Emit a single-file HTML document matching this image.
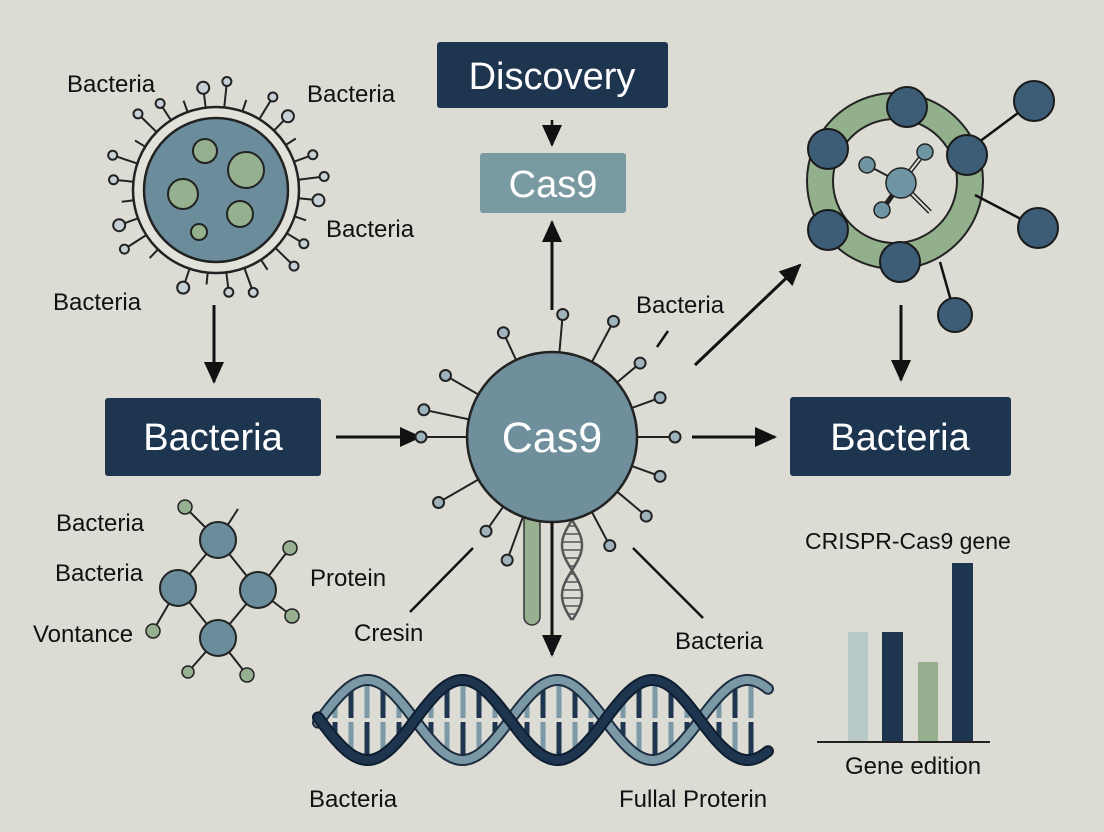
<!DOCTYPE html>
<html><head><meta charset="utf-8"><style>
html,body{margin:0;padding:0;background:#dcdcd5;}
svg{display:block}
text{font-family:"Liberation Sans",sans-serif;}
</style></head><body>
<svg id="s" width="1104" height="832" viewBox="0 0 1104 832" xmlns="http://www.w3.org/2000/svg">
<defs>
<marker id="ahb" markerWidth="24" markerHeight="24" refX="20" refY="12" orient="auto" markerUnits="userSpaceOnUse"><path d="M0,2 L22,12 L0,22 z" fill="#111"/></marker>
</defs>
<rect width="1104" height="832" fill="#dcdcd5"/>
<g id="spk1" stroke="#222" stroke-width="2" fill="#c6d0d6"></g>
<circle cx="216" cy="190" r="83" fill="#e3e2da" stroke="#222" stroke-width="2.5"/>
<circle cx="216" cy="190" r="72" fill="#6a8c9b" stroke="#222" stroke-width="2.5"/>
<g fill="#95b08e" stroke="#222" stroke-width="2">
<circle cx="205" cy="151" r="12"/><circle cx="246" cy="170" r="18"/><circle cx="183" cy="194" r="15"/><circle cx="240" cy="214" r="13"/><circle cx="199" cy="232" r="8"/>
</g>
<g font-size="24" fill="#111">
<text x="67" y="92">Bacteria</text><text x="307" y="102">Bacteria</text><text x="326" y="237">Bacteria</text><text x="53" y="310">Bacteria</text>
</g>
<line x1="214" y1="305" x2="214" y2="382" stroke="#111" stroke-width="3" marker-end="url(#ahb)"/>
<rect x="105" y="398" width="216" height="78" rx="3" fill="#1e3550"/>
<text x="213" y="450" font-size="38" fill="#fff" text-anchor="middle">Bacteria</text>
<line x1="336" y1="437" x2="420" y2="437" stroke="#111" stroke-width="3" marker-end="url(#ahb)"/>

<rect x="437" y="42" width="231" height="66" rx="3" fill="#1e3550"/>
<text x="552" y="89" font-size="38" fill="#fff" text-anchor="middle">Discovery</text>
<line x1="552" y1="120" x2="552" y2="145" stroke="#111" stroke-width="2.5" marker-end="url(#ahb)"/>
<rect x="480" y="153" width="146" height="60" rx="3" fill="#7a9aa2"/>
<text x="553" y="197" font-size="38" fill="#fff" text-anchor="middle">Cas9</text>
<line x1="552" y1="310" x2="552" y2="222" stroke="#111" stroke-width="3" marker-end="url(#ahb)"/>

<g id="spk2" stroke="#222" stroke-width="2" fill="#9fb3bd"></g>
<rect x="524" y="505" width="16" height="120" rx="8" fill="#97b090" stroke="#333" stroke-width="1.5"/>
<g id="mini" stroke="#555" stroke-width="2.5" fill="none"></g>
<circle cx="552" cy="437" r="85" fill="#6f8f9c" stroke="#222" stroke-width="2.5"/>
<text x="552" y="452" font-size="43" fill="#fff" text-anchor="middle">Cas9</text>
<line x1="552" y1="522" x2="552" y2="655" stroke="#111" stroke-width="3" marker-end="url(#ahb)"/>
<line x1="473" y1="548" x2="410" y2="612" stroke="#111" stroke-width="2.5"/>
<line x1="633" y1="548" x2="703" y2="618" stroke="#111" stroke-width="2.5"/>
<text x="354" y="641" font-size="24" fill="#111">Cresin</text>
<text x="675" y="649" font-size="24" fill="#111">Bacteria</text>
<text x="636" y="313" font-size="24" fill="#111">Bacteria</text>
<line x1="657" y1="347" x2="668" y2="331" stroke="#111" stroke-width="2.5"/>
<line x1="695" y1="365" x2="800" y2="265" stroke="#111" stroke-width="3" marker-end="url(#ahb)"/>
<line x1="692" y1="437" x2="775" y2="437" stroke="#111" stroke-width="3" marker-end="url(#ahb)"/>

<circle cx="895" cy="181" r="75" fill="none" stroke="#222" stroke-width="28"/>
<circle cx="895" cy="181" r="75" fill="none" stroke="#93b08c" stroke-width="24"/>
<g stroke="#111" stroke-width="2.5"><line x1="975" y1="145" x2="1034" y2="101"/><line x1="975" y1="195" x2="1038" y2="228"/><line x1="940" y1="262" x2="955" y2="315"/></g>
<g stroke="#222" stroke-width="2">
<line x1="901" y1="183" x2="867" y2="165"/><line x1="901" y1="183" x2="925" y2="152" stroke-width="5"/><line x1="901" y1="183" x2="882" y2="210" stroke-width="5"/><line x1="901" y1="183" x2="930" y2="212" stroke-width="5"/>
<line x1="901" y1="183" x2="925" y2="152" stroke="#dcdcd5" stroke-width="2"/><line x1="901" y1="183" x2="930" y2="212" stroke="#dcdcd5" stroke-width="2"/>
</g>
<g fill="#6f95a4" stroke="#222" stroke-width="1.5"><circle cx="901" cy="183" r="15"/><circle cx="867" cy="165" r="8"/><circle cx="925" cy="152" r="8"/><circle cx="882" cy="210" r="8"/></g>
<g fill="#3d5d77" stroke="#1a1a1a" stroke-width="2">
<circle cx="907" cy="107" r="20"/><circle cx="828" cy="149" r="20"/><circle cx="967" cy="155" r="20"/><circle cx="828" cy="230" r="20"/><circle cx="900" cy="262" r="20"/>
<circle cx="1034" cy="101" r="20"/><circle cx="1038" cy="228" r="20"/><circle cx="955" cy="315" r="17"/>
</g>
<line x1="901" y1="305" x2="901" y2="380" stroke="#111" stroke-width="3" marker-end="url(#ahb)"/>
<rect x="790" y="397" width="221" height="79" rx="3" fill="#1e3550"/>
<text x="900" y="450" font-size="38" fill="#fff" text-anchor="middle">Bacteria</text>

<text x="805" y="549" font-size="23" fill="#111">CRISPR-Cas9 gene</text>
<rect x="848" y="632" width="20" height="110" fill="#b9c9c8"/>
<rect x="882" y="632" width="21" height="110" fill="#1e3550"/>
<rect x="918" y="662" width="20" height="80" fill="#97b090"/>
<rect x="952" y="563" width="21" height="179" fill="#1e3550"/>
<line x1="817" y1="742" x2="990" y2="742" stroke="#222" stroke-width="2"/>
<text x="845" y="774" font-size="24" fill="#111">Gene edition</text>

<g stroke="#222" stroke-width="2">
<line x1="218" y1="540" x2="178" y2="588"/><line x1="218" y1="540" x2="258" y2="590"/><line x1="178" y1="588" x2="218" y2="638"/><line x1="258" y1="590" x2="218" y2="638"/>
<line x1="218" y1="540" x2="185" y2="507"/><line x1="218" y1="540" x2="238" y2="509"/><line x1="258" y1="590" x2="290" y2="548"/><line x1="178" y1="588" x2="153" y2="631"/><line x1="258" y1="590" x2="292" y2="616"/><line x1="218" y1="638" x2="247" y2="675"/><line x1="218" y1="638" x2="188" y2="672"/>
</g>
<g fill="#6a8c9b" stroke="#222" stroke-width="2"><circle cx="218" cy="540" r="18"/><circle cx="178" cy="588" r="18"/><circle cx="258" cy="590" r="18"/><circle cx="218" cy="638" r="18"/></g>
<g fill="#97b090" stroke="#222" stroke-width="1.5"><circle cx="185" cy="507" r="7"/><circle cx="290" cy="548" r="7"/><circle cx="153" cy="631" r="7"/><circle cx="292" cy="616" r="7"/><circle cx="247" cy="675" r="7"/><circle cx="188" cy="672" r="6"/></g>
<g font-size="24" fill="#111"><text x="56" y="531">Bacteria</text><text x="55" y="581">Bacteria</text><text x="310" y="586">Protein</text><text x="33" y="642">Vontance</text></g>

<g id="dna"></g>
<g font-size="24" fill="#111"><text x="309" y="807">Bacteria</text><text x="619" y="807">Fullal Proterin</text></g>
</svg>
<script>
var NS="http://www.w3.org/2000/svg";
function el(p,t,a){var e=document.createElementNS(NS,t);for(var k in a)e.setAttribute(k,a[k]);p.appendChild(e);return e;}
var g1=document.getElementById('spk1');
for(var i=0;i<28;i++){var a=i/28*2*Math.PI+0.1;var knob=i%3!=1;var L=knob?(98+(i%2)*6):95;
var x1=216+83*Math.cos(a),y1=190+83*Math.sin(a),x2=216+L*Math.cos(a),y2=190+L*Math.sin(a);
if(a>1.9&&a<2.3)continue;
el(g1,'line',{x1:x1,y1:y1,x2:x2,y2:y2});if(knob)el(g1,'circle',{cx:216+(L+5)*Math.cos(a),cy:190+(L+5)*Math.sin(a),r:(i%4==0?6:4.5)});}
var g2=document.getElementById('spk2');
var angs=[-115,-85,-62,-40,-150,-168,-20,0,180,20,40,150,125,62,110];
angs.forEach(function(d,i){var a=d*Math.PI/180;var L=110+(i%3)*8;
el(g2,'line',{x1:552+80*Math.cos(a),y1:437+80*Math.sin(a),x2:552+L*Math.cos(a),y2:437+L*Math.sin(a)});
el(g2,'circle',{cx:552+(L+5)*Math.cos(a),cy:437+(L+5)*Math.sin(a),r:5.5});});
var m=document.getElementById('mini');var p1="",p2="";
for(var y=520;y<=620;y+=2){var dx=10*Math.sin((y-520)/16);p1+=(y==520?"M":"L")+(572+dx)+","+y;p2+=(y==520?"M":"L")+(572-dx)+","+y;}
el(m,'path',{d:p1});el(m,'path',{d:p2});
for(var y=526;y<620;y+=8){var dx=10*Math.sin((y-520)/16);el(m,'line',{x1:572-dx,y1:y,x2:572+dx,y2:y,'stroke-width':1.5});}
var d=document.getElementById('dna');
function strand(ph){var s="";for(var x=318;x<=768;x+=2){var y=720+40*Math.sin(Math.PI*(x-320)/95+ph);s+=(x==318?"M":"L")+x+","+y.toFixed(1);}return s;}
for(var x=335;x<765;x+=16){var k=Math.floor((x-320)/16);var yy=40*Math.abs(Math.sin(Math.PI*(x-320)/95));
el(d,'line',{x1:x,y1:720-yy+4,x2:x,y2:718,stroke:(k%2?"#1e3550":"#7a98a6"),'stroke-width':5});
el(d,'line',{x1:x,y1:722,x2:x,y2:720+yy-4,stroke:(k%2?"#7a98a6":"#1e3550"),'stroke-width':5});}
var s2=strand(Math.PI);
el(d,'path',{d:s2,fill:'none',stroke:'#1e2e40','stroke-width':12,'stroke-linecap':'round'});
el(d,'path',{d:s2,fill:'none',stroke:'#7a98a6','stroke-width':8,'stroke-linecap':'round'});
var s1=strand(0);
el(d,'path',{d:s1,fill:'none',stroke:'#0f1e30','stroke-width':12,'stroke-linecap':'round'});
el(d,'path',{d:s1,fill:'none',stroke:'#1e3550','stroke-width':8,'stroke-linecap':'round'});
</script>
</body></html>
